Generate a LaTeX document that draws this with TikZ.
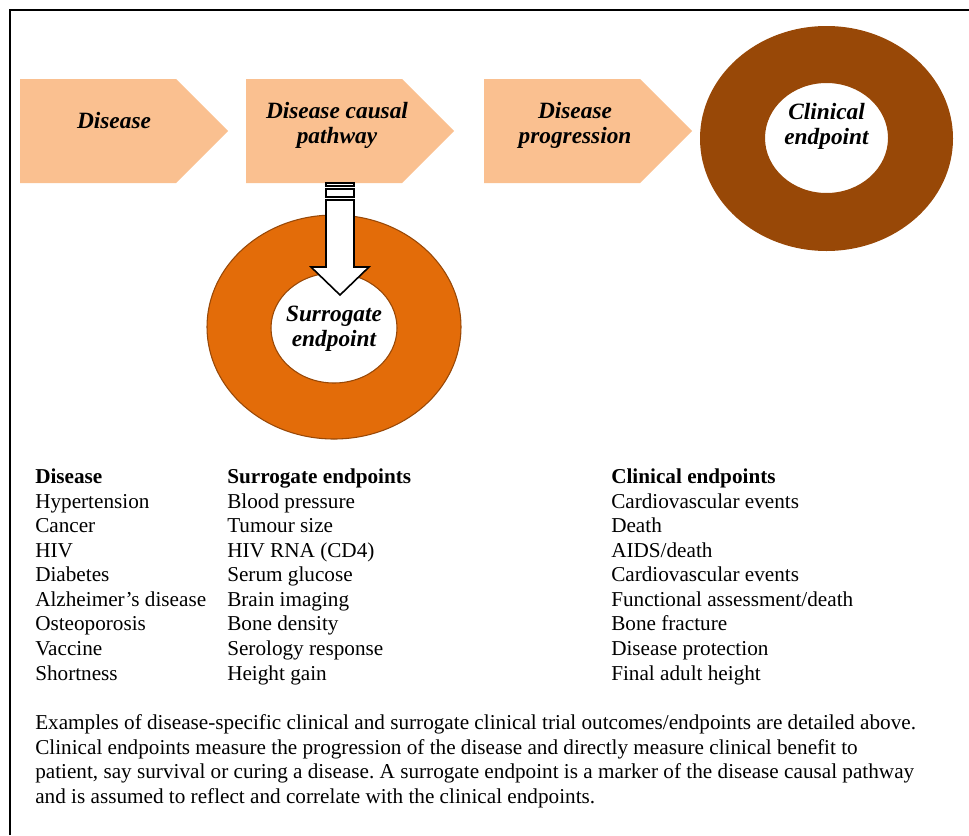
\documentclass[tikz,border=0pt]{standalone}
\usepackage{fontspec}
\setmainfont{Liberation Serif}
\usepackage{xcolor}
\definecolor{peach}{HTML}{FAC090}
\definecolor{rust}{HTML}{E36C09}
\definecolor{umber}{HTML}{984807}
\frenchspacing

\begin{document}
\begin{tikzpicture}[x=0.75pt,y=-0.75pt,
  lbl/.style={align=center,inner sep=0pt,font=\bfseries\itshape\fontsize{17.5}{18.8}\selectfont},
  col/.style={anchor=base west,align=left,inner sep=0pt,font=\fontsize{15.9}{18.4}\selectfont}]
  \useasboundingbox (0,0) rectangle (969,835);
  \draw[line width=1.5pt] (9.5,835) -- (9.5,10) -- (969,10);
  % chevrons
  \fill[peach] (20,79) -- (176,79) -- (228,131) -- (176,183) -- (20,183) -- cycle;
  \fill[peach] (246,79) -- (402,79) -- (454,131) -- (402,183) -- (246,183) -- cycle;
  \fill[peach] (484,79) -- (640,79) -- (692,131) -- (640,183) -- (484,183) -- cycle;
  \node[lbl] (dis) at (114,120.5) {Disease};
  \node[lbl] (path) at (337,125.5) {Disease causal\\pathway};
  \node[lbl] (prog) at (575,125.5) {Disease\\progression};
  % rings
  \fill[umber,even odd rule] (826.5,138.5) ellipse [x radius=126.5,y radius=112.5]
    (826.5,138) ellipse [x radius=61.5,y radius=55];
  \filldraw[fill=rust,draw=umber,line width=0.8pt,even odd rule] (334,327) ellipse [x radius=127,y radius=112]
    (334,328) ellipse [x radius=63,y radius=55];
  \node[lbl] (clin) at (826.5,126.5) {Clinical\\endpoint};
  \node[lbl] (surr) at (334,328.5) {Surrogate\\endpoint};
  % striped arrow
  \filldraw[fill=white,line width=1.2pt] (326,183) rectangle (354,186);
  \filldraw[fill=white,line width=1.2pt] (326,189) rectangle (354,197);
  \filldraw[fill=white,line width=1.2pt] (326,200) -- (354,200) -- (354,267) -- (369,267)
    -- (340,295) -- (311,267) -- (326,267) -- cycle;
  % table (base = last line)
  \node[col] (c1) at (35,680) {\textbf{Disease}\\Hypertension\\Cancer\\HIV\\Diabetes\\Alzheimer’s disease\\Osteoporosis\\Vaccine\\Shortness};
  \node[col] (c2) at (227,680) {\textbf{Surrogate endpoints}\\Blood pressure\\Tumour size\\HIV RNA (CD4)\\Serum glucose\\Brain imaging\\Bone density\\Serology response\\Height gain};
  \node[col] (c3) at (611,680) {\textbf{Clinical endpoints}\\Cardiovascular events\\Death\\AIDS/death\\Cardiovascular events\\Functional assessment/death\\Bone fracture\\Disease protection\\Final adult height};
  \node[col] (note) at (35,803.5) {Examples of disease-specific clinical and surrogate clinical trial outcomes/endpoints are detailed above.\\Clinical endpoints measure the progression of the disease and directly measure clinical benefit to\\patient, say survival or curing a disease. A surrogate endpoint is a marker of the disease causal pathway\\and is assumed to reflect and correlate with the clinical endpoints.};
\end{tikzpicture}
\end{document}
